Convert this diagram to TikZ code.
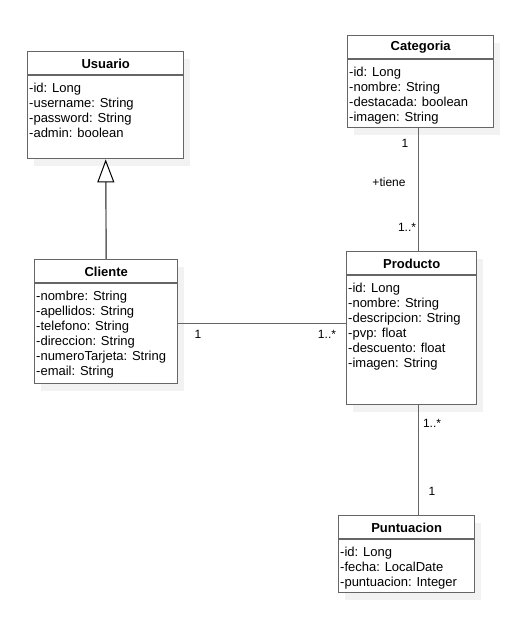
\documentclass[tikz,border=0pt]{standalone}
\usepackage{fontspec}
\setmainfont{Liberation Sans}
\usetikzlibrary{arrows.meta,shadows}
\definecolor{umlLine}{HTML}{666666}
\definecolor{umlShadow}{HTML}{F2F2F2}

\begin{document}
\begin{tikzpicture}
[x=1pt,y=-1pt,
  classDecorate/.style={draw=umlLine,line width=1.4pt,fill=white,anchor=north west,inner sep=0pt,
    drop shadow={shadow xshift=6pt,shadow yshift=-7pt,fill=umlShadow,opacity=1}},
  titleDecorate/.style={inner sep=0pt,font=\fontsize{13}{15}\selectfont\bfseries},
  attrDecorate/.style={anchor=north west,align=left,inner sep=0pt,font=\fontsize{13}{15}\selectfont},
  lineDecorate/.style={-,line width=1.4pt,draw=umlLine},
  labelDecorate/.style={inner sep=0pt,font=\fontsize{12}{14}\selectfont}]
\useasboundingbox (0,0) rectangle (528,623);
%% class boxes
\foreach \nodename/\x/\y/\w/\h in {
  usuario/27/51/156/107, categoria/347/35/146/92, cliente/34/259/143/124,
  producto/346/251/130/153, puntuacion/338/515/136/77}
{
  \node (\nodename) at (\x,\y) [classDecorate,minimum width=\w pt,minimum height=\h pt] {};
  \draw[lineDecorate] ([yshift=-24pt]\nodename.north west) -- ([yshift=-24pt]\nodename.north east);
}
%% class names
\foreach \nodename/\title in {
  usuario/Usuario, categoria/Categoria, cliente/Cliente,
  producto/Producto, puntuacion/Puntuacion}
{
  \node (\nodename Title) at ([yshift=-12.5pt]\nodename.north) [titleDecorate] {\title};
}
%% attributes
\node (usuarioAttr) at ([xshift=2pt,yshift=-31.5pt]usuario.north west) [attrDecorate]
  {-id: Long\\-username: String\\-password: String\\-admin: boolean};
\node (categoriaAttr) at ([xshift=2pt,yshift=-31.5pt]categoria.north west) [attrDecorate]
  {-id: Long\\-nombre: String\\-destacada: boolean\\-imagen: String};
\node (clienteAttr) at ([xshift=2pt,yshift=-31.5pt]cliente.north west) [attrDecorate]
  {-nombre: String\\-apellidos: String\\-telefono: String\\-direccion: String\\-numeroTarjeta: String\\-email: String};
\node (productoAttr) at ([xshift=2pt,yshift=-31.5pt]producto.north west) [attrDecorate]
  {-id: Long\\-nombre: String\\-descripcion: String\\-pvp: float\\-descuento: float\\-imagen: String};
\node (puntuacionAttr) at ([xshift=2pt,yshift=-31.5pt]puntuacion.north west) [attrDecorate]
  {-id: Long\\-fecha: LocalDate\\-puntuacion: Integer};
%% edges or lines
\draw[lineDecorate,-{Triangle[open,width=17pt,length=23pt,line width=1pt,color=black]}]
  (cliente.north) -- (usuario.south);
\draw[lineDecorate] ([xshift=-2pt]categoria.south) -- ([xshift=7pt]producto.north);
\draw[lineDecorate] ([yshift=-2pt]cliente.east) -- ([yshift=-2pt]cliente.east -| producto.west);
\draw[lineDecorate] ([xshift=7pt]producto.south) -- ([xshift=12pt]puntuacion.north);
%% edge labels
\node (tieneSrc) at (405,143) [labelDecorate] {1};
\node (tieneLabel) at (389,182) [labelDecorate] {+tiene};
\node (tieneDst) at (407,227) [labelDecorate] {1..*};
\node (compraSrc) at (198,334) [labelDecorate] {1};
\node (compraDst) at (327,334) [labelDecorate] {1..*};
\node (puntuaSrc) at (432,423) [labelDecorate] {1..*};
\node (puntuaDst) at (432,491) [labelDecorate] {1};
\end{tikzpicture}
\end{document}
